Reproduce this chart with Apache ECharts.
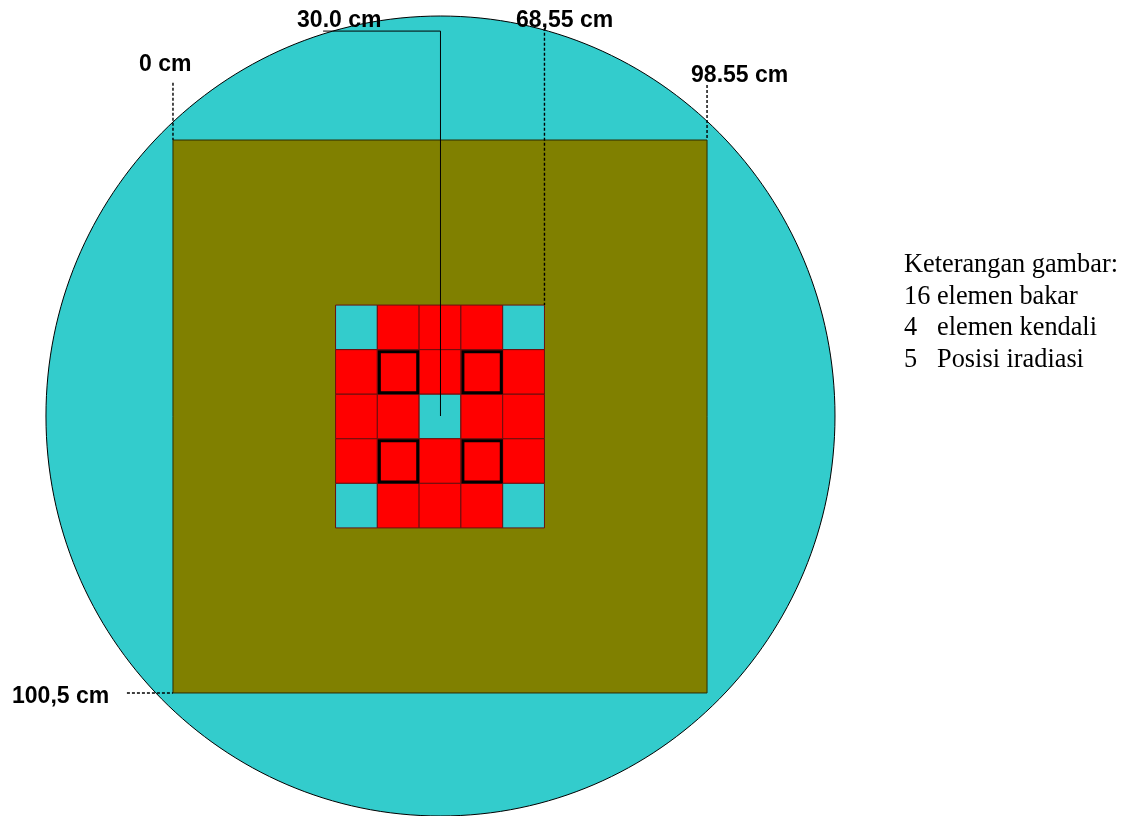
<!DOCTYPE html>
<html>
<head>
<meta charset="utf-8">
<style>html,body{margin:0;padding:0;background:#fff}#c{width:1126px;height:816px}</style>
<script src="https://cdn.jsdelivr.net/npm/echarts@6/dist/echarts.min.js"></script>
</head>
<body>
<div id="c"></div>
<script>
// All geometry in centimetres
const tankCircle = [[49.36, 50.16, 72.8, 72.7]];   // cx, cy, rx, ry
const poolRect = [[0, 0, 98.55, 100.5]];           // x0, y0, x1, y1
const coreColEdges = [30.0, 37.71, 45.42, 53.13, 60.84, 68.55];
const coreRowEdges = [30.0, 38.1, 46.2, 54.3, 62.4, 70.5];
// I = irradiation position, F = fuel element, C = control element
const coreLayout = [
  ['I','F','F','F','I'],
  ['F','C','F','C','F'],
  ['F','F','I','F','F'],
  ['F','C','F','C','F'],
  ['I','F','F','F','I']
];
const leader30 = [[27.7, -19.8], [49.36, -19.8], [49.36, 50.16]];
const leader6855 = [[68.55, -20.4], [68.55, 30.0]];
const leader0 = [[0, -10.4], [0, 0]];
const leader9855 = [[98.55, -10.0], [98.55, 0]];
const leader1005 = [[-8.5, 100.5], [0, 100.5]];
const dimNames = ['0 cm', '30.0 cm', '68,55 cm', '98.55 cm', '100,5 cm'];
const dimPositions = [[-6.27, -13.7], [22.9, -21.75], [63.3, -21.75], [95.6, -11.7], [-29.7, 101.1]];
const noteNames = ['Keterangan gambar:', '16 elemen bakar', '4', 'elemen kendali', '5', 'Posisi iradiasi'];
const notePositions = [[134.9, 22.8], [134.9, 28.6], [134.9, 34.2], [141.0, 34.2], [134.9, 40.0], [141.0, 40.0]];

const cellColor = {I: '#33CCCC', F: '#FF0000', C: '#FF0000'};
const cells = [];
coreLayout.forEach((row, r) => row.forEach((t, c) => {
  cells.push({value: [coreColEdges[c], coreRowEdges[r], coreColEdges[c + 1], coreRowEdges[r + 1]], kind: t});
}));

function rectShape(api) {
  const a = api.coord([api.value(0), api.value(1)]);
  const b = api.coord([api.value(2), api.value(3)]);
  return {x: a[0], y: a[1], width: b[0] - a[0], height: b[1] - a[1]};
}
function leader(data, dashed) {
  return {
    type: 'line', data, symbol: 'none', silent: true, z: 5, animation: false,
    lineStyle: {color: '#000', width: dashed ? 1.4 : 1, type: dashed ? [3, 2] : 'solid'}
  };
}
function labels(names, positions, font, size, weight) {
  return {
    type: 'custom', silent: true, z: 6, clip: false, data: positions,
    encode: {x: 0, y: 1},
    renderItem(params, api) {
      const p = api.coord([api.value(0), api.value(1)]);
      return {type: 'text', style: {
        text: names[params.dataIndex], x: p[0], y: p[1], fill: '#000',
        fontFamily: font, fontSize: size, fontWeight: weight,
        textAlign: 'left', textVerticalAlign: 'middle'
      }};
    }
  };
}

const chart = echarts.init(document.getElementById('c'), null, {renderer: 'canvas'});
chart.setOption({
  animation: false,
  backgroundColor: '#fff',
  grid: {left: 0, right: 0, top: 0, bottom: 0},
  xAxis: {type: 'value', min: -31.92, max: 175.86, show: false},
  yAxis: {type: 'value', min: -25.45, max: 122.86, inverse: true, show: false},
  tooltip: {show: false},
  series: [
    {
      type: 'custom', z: 1, silent: true, data: tankCircle, clip: false,
      encode: {x: [0], y: [1]},
      renderItem(params, api) {
        const c = api.coord([api.value(0), api.value(1)]);
        const s = api.size([api.value(2), api.value(3)]);
        return {type: 'ellipse', shape: {cx: c[0], cy: c[1], rx: s[0], ry: s[1]},
          style: {fill: '#33CCCC', stroke: '#000', lineWidth: 1}};
      }
    },
    {
      type: 'custom', z: 2, silent: true, data: poolRect,
      encode: {x: [0, 2], y: [1, 3]},
      renderItem(params, api) {
        return {type: 'rect', shape: rectShape(api),
          style: {fill: '#808000', stroke: '#2b2b00', lineWidth: 1}};
      }
    },
    {
      type: 'custom', z: 3, silent: true, data: cells,
      encode: {x: [0, 2], y: [1, 3]},
      renderItem(params, api) {
        const s = rectShape(api);
        const kind = cells[params.dataIndex].kind;
        const children = [{type: 'rect', shape: s,
          style: {fill: cellColor[kind], stroke: '#6a1010', lineWidth: 1}}];
        if (kind === 'C') {
          children.push({type: 'rect',
            shape: {x: s.x + 2, y: s.y + 2, width: s.width - 3.4, height: s.height - 3.4},
            style: {fill: 'none', stroke: '#000', lineWidth: 3}, z2: 10});
        }
        return {type: 'group', children};
      }
    },
    leader(leader30, false),
    leader(leader6855, true),
    leader(leader0, true),
    leader(leader9855, true),
    leader(leader1005, true),
    labels(dimNames, dimPositions, 'Liberation Sans', 23, 'bold'),
    labels(noteNames, notePositions, 'Liberation Serif', 26.3, 'normal')
  ]
});
</script>
</body>
</html>
